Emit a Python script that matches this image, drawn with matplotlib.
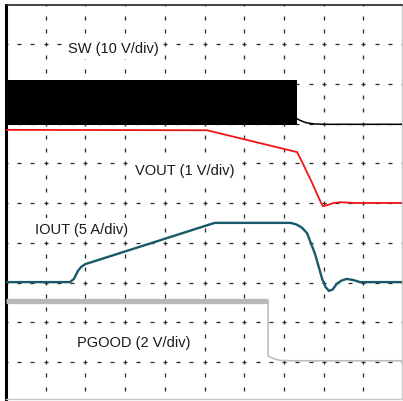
import numpy as np
import matplotlib.pyplot as plt

# ==========================================
# dados lidos do ecrã do osciloscópio (em divisões)
# ==========================================
# SW: banda de comutação e depois cauda
sw_band_t = [0.0, 7.33]
sw_band_lo = [6.96, 6.96]
sw_band_hi = [8.09, 8.09]
sw_tail_t = [7.33, 7.40, 7.55, 7.75, 8.0, 10.0]
sw_tail_v = [7.12, 7.08, 7.02, 6.99, 6.98, 6.98]

# VOUT (1 V/div)
vout_t = [0.0, 5.06, 7.33, 7.48, 7.70, 7.82, 7.92, 7.98, 8.10, 8.25, 8.41, 8.80, 10.0]
vout_v = [6.84, 6.83, 6.28, 5.98, 5.52, 5.25, 5.03, 4.92, 4.95, 5.0, 5.02, 5.0, 5.0]

# IOUT (5 A/div)
iout_t = [0.0, 1.61, 1.71, 1.81, 1.89, 1.99, 5.19, 5.26, 7.15, 7.25, 7.33, 7.45, 7.58,
          7.78, 7.96, 8.05, 8.13, 8.22, 8.33, 8.45, 8.58, 8.75, 8.91, 10.0]
iout_v = [3.01, 3.01, 3.09, 3.29, 3.39, 3.46, 4.48, 4.50, 4.50, 4.48, 4.45, 4.38, 4.24,
          3.72, 3.09, 2.88, 2.79, 2.82, 2.97, 3.05, 3.09, 3.06, 3.01, 3.01]

# PGOOD (2 V/div)
pg_t = [0.0, 6.60, 6.60, 6.75, 6.90, 7.2, 10.0]
pg_v = [2.53, 2.53, 1.15, 1.08, 1.04, 1.03, 1.03]

labels = ['SW (10 V/div)', 'VOUT (1 V/div)', 'IOUT (5 A/div)', 'PGOOD (2 V/div)']
label_pos = [(1.56, 8.80), (3.25, 5.72), (0.73, 4.25), (1.79, 1.40)]

# ==========================================
# figura
# ==========================================
W, H = 403, 402
fig = plt.figure(figsize=(W / 100, H / 100), dpi=100)

# geometria em pixels: grelha com 39.72 px por divisão
x0, dx = 6.0, 39.72
y0, dy = 402.75, 39.75
left_px, right_px, top_px, bot_px = 6.0, 402.0, 5.5, 399.5
ax = fig.add_axes([left_px / W, 1 - bot_px / H, (right_px - left_px) / W, (bot_px - top_px) / H])
ax.set_xlim((left_px - x0) / dx, (right_px - x0) / dx)
ax.set_ylim((y0 - bot_px) / dy, (y0 - top_px) / dy)
ax.set_xticks([])
ax.set_yticks([])

for s in ['right', 'bottom']:
    ax.spines[s].set_color('#c8c8c8')
    ax.spines[s].set_linewidth(1.0)
ax.spines['left'].set_color('black')
ax.spines['left'].set_linewidth(2.2)
ax.spines['top'].set_color('#222222')
ax.spines['top'].set_linewidth(1.2)

# grelha tracejada (pequenos traços a cada 1/3 div)
minor = np.arange(0, 10.01, 1 / 3)
for k in range(1, 10):
    ax.plot(minor, np.full_like(minor, k), ls='none', marker='_', ms=2.4,
            mew=0.9, color='#262626', zorder=1)
    ax.plot(np.full_like(minor, k), minor, ls='none', marker='|', ms=2.6,
            mew=0.9, color='#262626', zorder=1)

# traços
ax.fill_between(sw_band_t, sw_band_lo, sw_band_hi, color='black', lw=0, zorder=3)
ax.plot(sw_tail_t, sw_tail_v, color='black', lw=1.1, zorder=3)
ax.plot(vout_t, vout_v, color='#f01414', lw=1.3, zorder=4)
ax.plot(iout_t, iout_v, color='#17596b', lw=1.7, zorder=4)
ax.plot(pg_t[:2], pg_v[:2], color='#b8b8b8', lw=3.8, solid_capstyle='butt', zorder=4)
ax.plot(pg_t[1:], pg_v[1:], color='#bdbdbd', lw=1.2, zorder=4)

# etiquetas com fundo branco (tapam a grelha, como no original)
for txt, (tx, ty) in zip(labels, label_pos):
    ax.text(tx, ty, txt, fontsize=10.5, family='Liberation Sans', color='#1a1a1a',
            va='baseline', ha='left', zorder=2,
            bbox=dict(facecolor='white', edgecolor='none', pad=3))

plt.savefig('out.png', dpi=100)
